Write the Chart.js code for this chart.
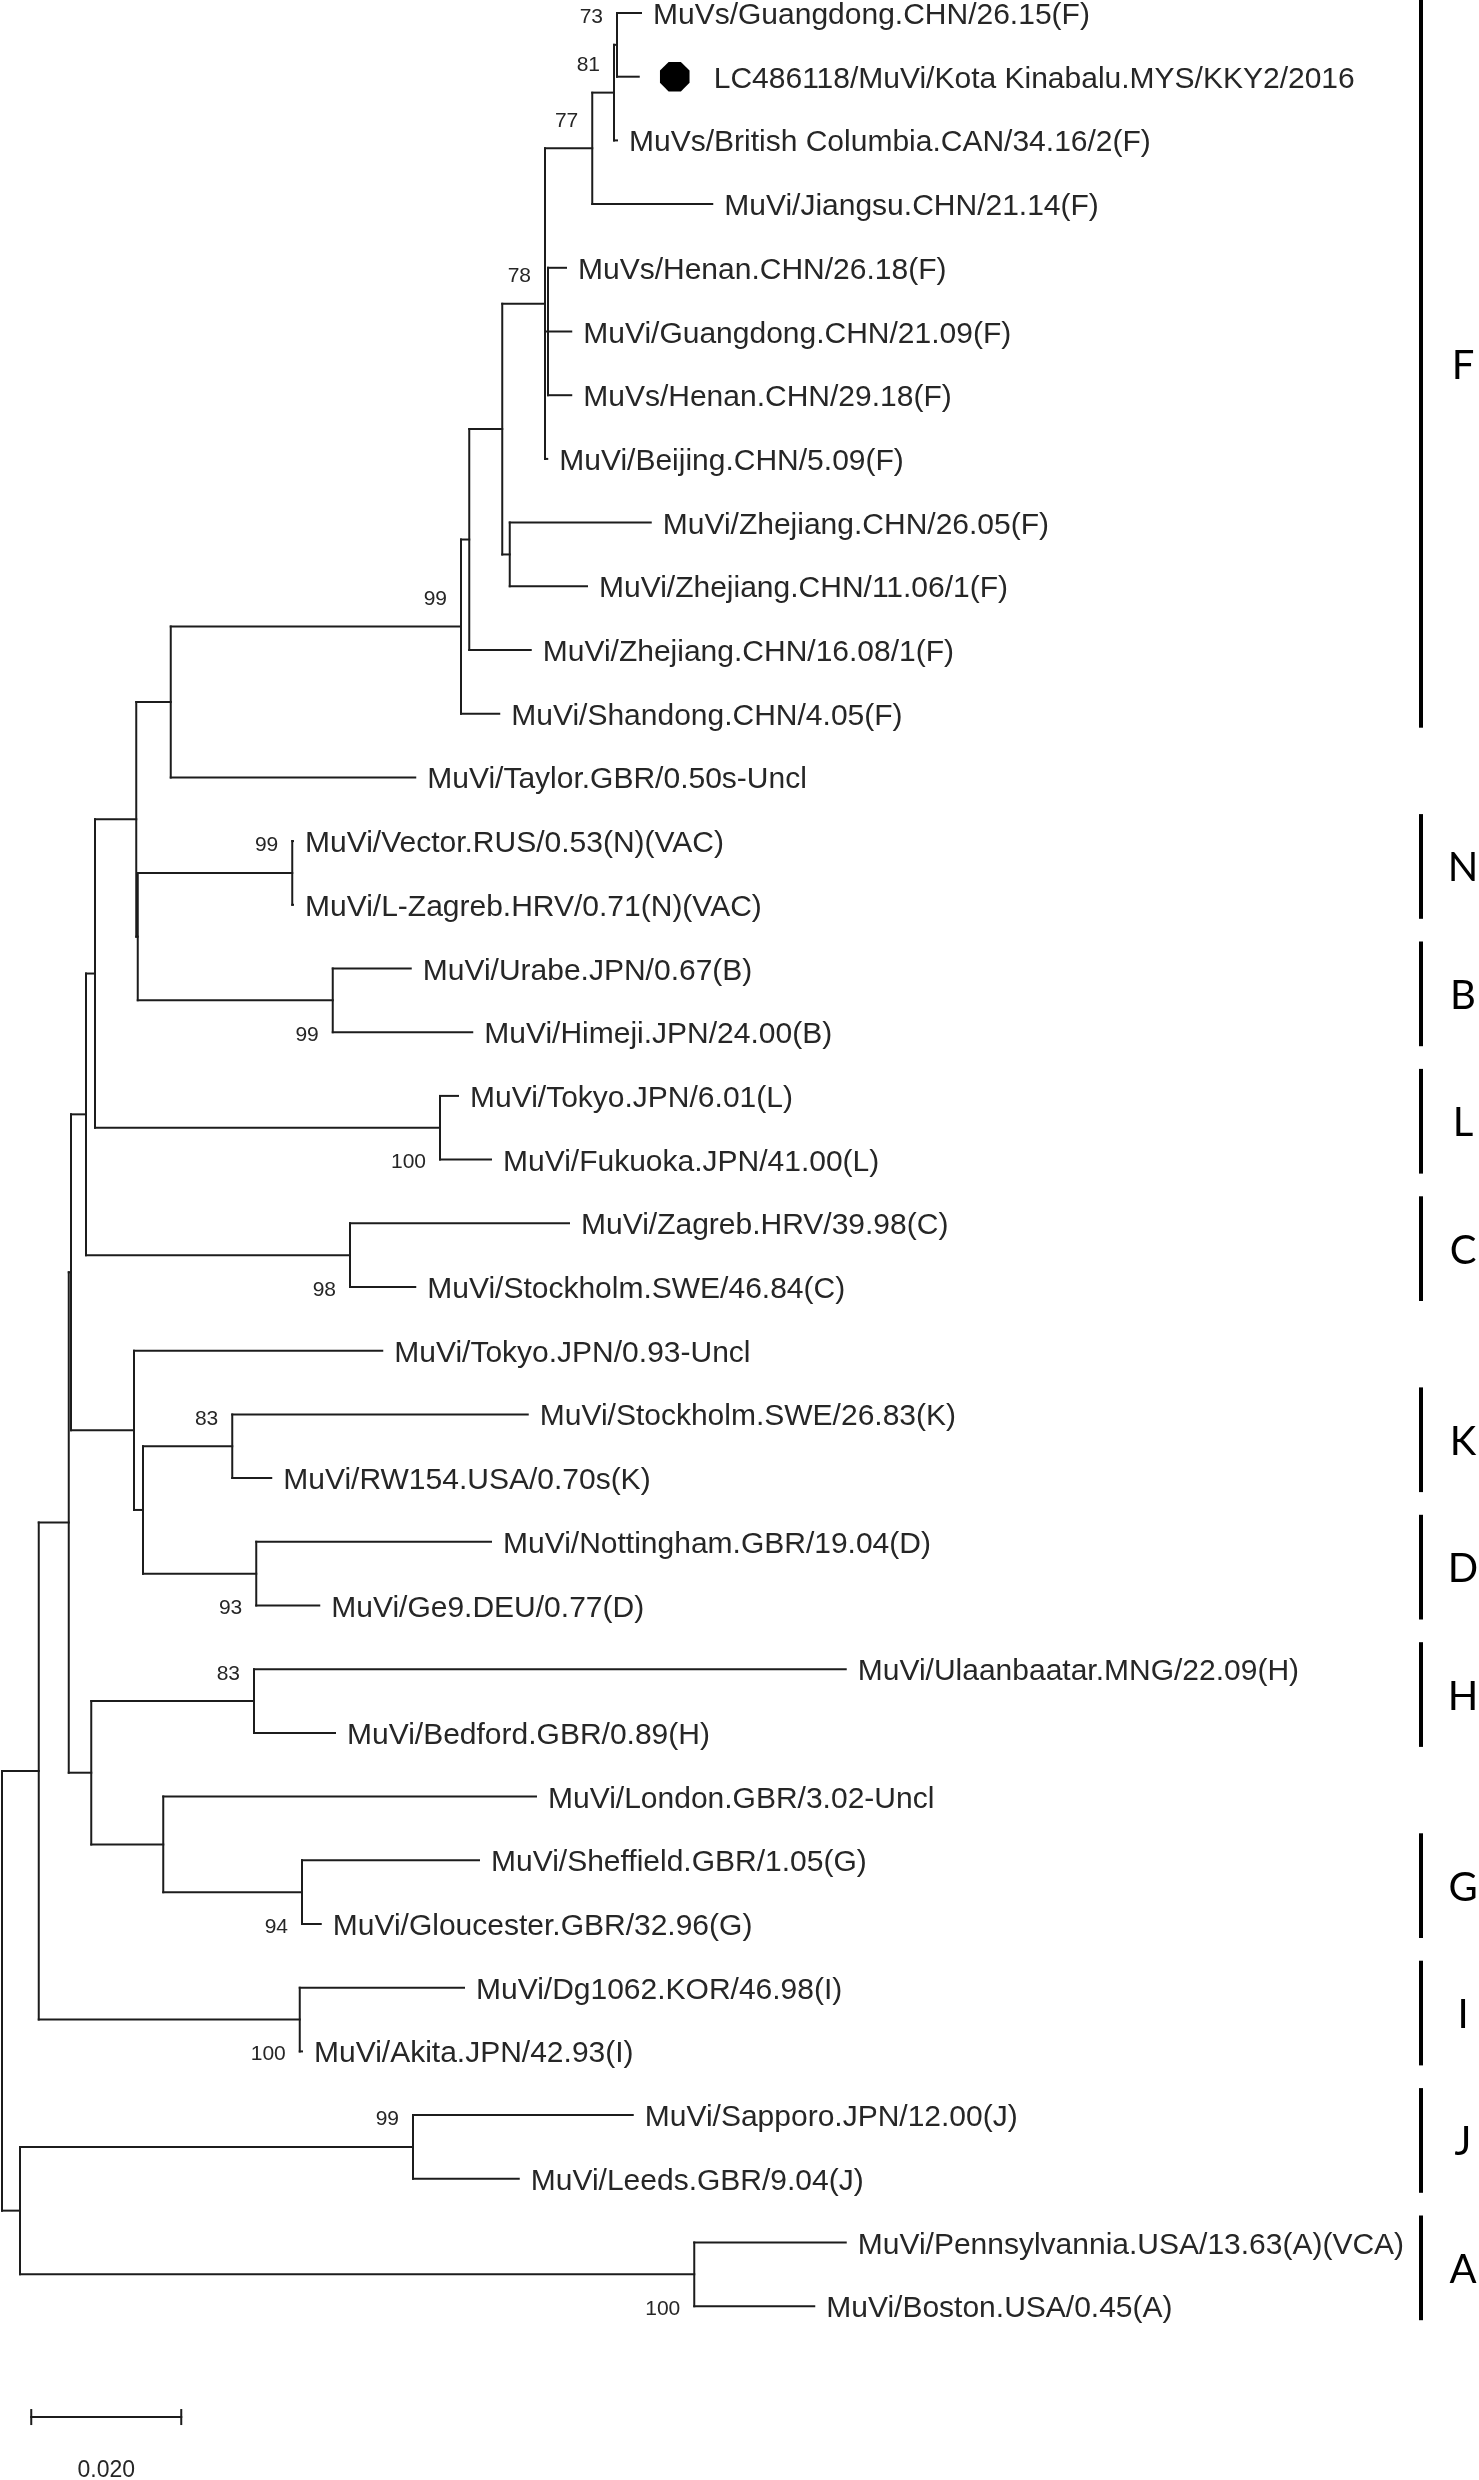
<!DOCTYPE html>
<html>
<head>
<meta charset="utf-8">
<script src="https://cdn.jsdelivr.net/npm/chart.js@4.4.1/dist/chart.umd.min.js"></script>
<style>
  html, body { margin: 0; padding: 0; background: #ffffff; }
  #wrap { position: relative; width: 1479px; height: 2480px; }
</style>
</head>
<body>
<div id="wrap"><canvas id="treeChart"></canvas></div>
<script>
// Leaf names, top to bottom (row index = y value)
const leafNames = [
    'MuVs/Guangdong.CHN/26.15(F)',
    'LC486118/MuVi/Kota Kinabalu.MYS/KKY2/2016',
    'MuVs/British Columbia.CAN/34.16/2(F)',
    'MuVi/Jiangsu.CHN/21.14(F)',
    'MuVs/Henan.CHN/26.18(F)',
    'MuVi/Guangdong.CHN/21.09(F)',
    'MuVs/Henan.CHN/29.18(F)',
    'MuVi/Beijing.CHN/5.09(F)',
    'MuVi/Zhejiang.CHN/26.05(F)',
    'MuVi/Zhejiang.CHN/11.06/1(F)',
    'MuVi/Zhejiang.CHN/16.08/1(F)',
    'MuVi/Shandong.CHN/4.05(F)',
    'MuVi/Taylor.GBR/0.50s-Uncl',
    'MuVi/Vector.RUS/0.53(N)(VAC)',
    'MuVi/L-Zagreb.HRV/0.71(N)(VAC)',
    'MuVi/Urabe.JPN/0.67(B)',
    'MuVi/Himeji.JPN/24.00(B)',
    'MuVi/Tokyo.JPN/6.01(L)',
    'MuVi/Fukuoka.JPN/41.00(L)',
    'MuVi/Zagreb.HRV/39.98(C)',
    'MuVi/Stockholm.SWE/46.84(C)',
    'MuVi/Tokyo.JPN/0.93-Uncl',
    'MuVi/Stockholm.SWE/26.83(K)',
    'MuVi/RW154.USA/0.70s(K)',
    'MuVi/Nottingham.GBR/19.04(D)',
    'MuVi/Ge9.DEU/0.77(D)',
    'MuVi/Ulaanbaatar.MNG/22.09(H)',
    'MuVi/Bedford.GBR/0.89(H)',
    'MuVi/London.GBR/3.02-Uncl',
    'MuVi/Sheffield.GBR/1.05(G)',
    'MuVi/Gloucester.GBR/32.96(G)',
    'MuVi/Dg1062.KOR/46.98(I)',
    'MuVi/Akita.JPN/42.93(I)',
    'MuVi/Sapporo.JPN/12.00(J)',
    'MuVi/Leeds.GBR/9.04(J)',
    'MuVi/Pennsylvannia.USA/13.63(A)(VCA)',
    'MuVi/Boston.USA/0.45(A)'
];

// Distance of each tip from the root (substitutions/site)
const leafDepth = [
    0.0852, 0.0849, 0.0820, 0.0947, 0.0752, 0.0759, 0.0759, 0.0727,
    0.0865, 0.0780, 0.0705, 0.0663, 0.0551, 0.0388, 0.0388, 0.0545,
    0.0627, 0.0608, 0.0652, 0.0756, 0.0551, 0.0507, 0.0701, 0.0359,
    0.0652, 0.0423, 0.1125, 0.0444, 0.0712, 0.0636, 0.0425, 0.0616,
    0.0400, 0.0841, 0.0689, 0.1125, 0.1083
];

// Internal nodes: ids continue after the leaves (37, 38, ...)
const nodeDepth = [
    0.0820, 0.0816, 0.0787, 0.0728, 0.0724, 0.0677, 0.0667, 0.0623,
    0.0612, 0.0225, 0.0387, 0.0441, 0.0181, 0.0179, 0.0584, 0.0124,
    0.0464, 0.0112, 0.0307, 0.0339, 0.0188, 0.0176, 0.0092, 0.0336,
    0.0400, 0.0215, 0.0119, 0.0089, 0.0397, 0.0049, 0.0548, 0.0923,
    0.0024, 0.0
];
const nodeKids = [
    [0, 1], [37, 2], [38, 3], [4, 5, 6], [39, 40, 7], [8, 9], [41, 42], [43, 10],
    [44, 11], [45, 12], [13, 14], [15, 16], [47, 48], [46, 49], [17, 18], [50, 51],
    [19, 20], [52, 53], [22, 23], [24, 25], [55, 56], [21, 57], [54, 58], [26, 27],
    [29, 30], [28, 61], [60, 62], [59, 63], [31, 32], [64, 65], [33, 34], [35, 36],
    [67, 68], [66, 69]
];

// Bootstrap support: node id, value, side of the branch
const bootNodes  = [37, 38, 39, 41, 45, 47, 48, 51, 53, 55, 56, 60, 61, 65, 67, 68];
const bootValues = [73, 81, 77, 78, 99, 99, 99, 100, 98, 83, 93, 83, 94, 100, 99, 100];
const bootSide   = ['up', 'up', 'up', 'up', 'up', 'up', 'down', 'down', 'down', 'up', 'down', 'up', 'down', 'down', 'up', 'down'];

// Genotype brackets: letter, first row, last row
const cladeLetters = ['F', 'N', 'B', 'L', 'C', 'K', 'D', 'H', 'G', 'I', 'J', 'A'];
const cladeFirst   = [0, 13, 15, 17, 19, 22, 24, 26, 29, 31, 33, 35];
const cladeLast    = [11, 14, 16, 18, 20, 23, 25, 27, 30, 32, 34, 36];

const markedLeaf = 1;
const scaleBarStart = 0.0039;
const scaleBarLength = 0.020;
const scaleBarRow = 37.74;

const nLeaves = leafNames.length;
const depthOf = id => id < nLeaves ? leafDepth[id] : nodeDepth[id - nLeaves];
const kidsOf = id => nodeKids[id - nLeaves];

const rowCache = {};
function rowOf(id) {
    if (id < nLeaves) return id;
    if (rowCache[id] !== undefined) return rowCache[id];
    const k = kidsOf(id);
    rowCache[id] = (rowOf(k[0]) + rowOf(k[k.length - 1])) / 2;
    return rowCache[id];
}

const LINE = '#1c1c1c';
const segments = [];
for (let i = 0; i < nodeKids.length; i++) {
    const id = nLeaves + i;
    const k = kidsOf(id);
    const d = depthOf(id);
    // vertical connector
    segments.push([{ x: d, y: rowOf(k[0]) }, { x: d, y: rowOf(k[k.length - 1]) }]);
    // horizontal branches to each child
    k.forEach(c => {
        segments.push([{ x: d, y: rowOf(c) }, { x: depthOf(c), y: rowOf(c) }]);
    });
}
// scale bar
segments.push([{ x: scaleBarStart, y: scaleBarRow }, { x: scaleBarStart + scaleBarLength, y: scaleBarRow }]);

const datasets = segments.map(seg => ({
    data: seg,
    showLine: true,
    borderColor: LINE,
    borderWidth: 2,
    borderCapStyle: 'square',
    pointRadius: 0,
    pointHoverRadius: 0
}));

// Text labels, brackets and marker drawn through the chart scales
const treeLabels = {
    id: 'treeLabels',
    afterDatasetsDraw(chart) {
        const ctx = chart.ctx;
        const xs = chart.scales.x;
        const ys = chart.scales.y;
        ctx.save();

        // leaf names
        ctx.fillStyle = '#262626';
        ctx.font = "30px 'Liberation Sans', Arial, sans-serif";
        ctx.textAlign = 'left';
        ctx.textBaseline = 'alphabetic';
        leafNames.forEach((name, i) => {
            let px = xs.getPixelForValue(leafDepth[i]) + 12;
            const py = ys.getPixelForValue(i);
            if (i === markedLeaf) {
                const cx = px + 24, r = 16;
                ctx.beginPath();
                for (let s = 0; s < 8; s++) {
                    const a = Math.PI / 8 + s * Math.PI / 4;
                    const vx = cx + r * Math.cos(a), vy = py + r * Math.sin(a);
                    if (s === 0) ctx.moveTo(vx, vy); else ctx.lineTo(vx, vy);
                }
                ctx.closePath();
                ctx.fillStyle = '#000000';
                ctx.fill();
                ctx.fillStyle = '#262626';
                px += 63;
            }
            ctx.fillText(name, px, py + 11);
        });

        // bootstrap values
        ctx.font = "21px 'Liberation Sans', Arial, sans-serif";
        ctx.textAlign = 'right';
        bootNodes.forEach((id, i) => {
            const px = xs.getPixelForValue(depthOf(id)) - 14;
            const py = ys.getPixelForValue(rowOf(id)) + (bootSide[i] === 'up' ? -29 : 33);
            ctx.fillText(String(bootValues[i]), px, py + 7.5);
        });

        // genotype brackets
        ctx.fillStyle = '#000000';
        ctx.font = "40px Lato, 'Open Sans', sans-serif";
        ctx.textAlign = 'center';
        ctx.textBaseline = 'alphabetic';
        cladeLetters.forEach((letter, i) => {
            const top = Math.max(0, ys.getPixelForValue(cladeFirst[i]) - 27);
            const bot = ys.getPixelForValue(cladeLast[i]) + 14;
            ctx.fillRect(1419, top, 4, bot - top);
            ctx.fillText(letter, 1463, (top + bot) / 2 + 15);
        });

        // scale bar caps and label
        const x0 = xs.getPixelForValue(scaleBarStart);
        const x1 = xs.getPixelForValue(scaleBarStart + scaleBarLength);
        const yb = ys.getPixelForValue(scaleBarRow);
        ctx.fillStyle = LINE;
        ctx.fillRect(x0 - 1, yb - 8, 2, 16);
        ctx.fillRect(x1 - 1, yb - 8, 2, 16);
        ctx.fillStyle = '#262626';
        ctx.font = "23px 'Liberation Sans', Arial, sans-serif";
        ctx.fillText(scaleBarLength.toFixed(3), (x0 + x1) / 2, yb + 60);

        ctx.restore();
    }
};

const pxPerUnit = 7500;
const rowPx = 63.7;
const firstRowPx = 13;

new Chart(document.getElementById('treeChart'), {
    type: 'scatter',
    data: { datasets },
    options: {
        responsive: true,
        maintainAspectRatio: false,
        animation: false,
        events: [],
        layout: { padding: 0 },
        scales: {
            x: { display: false, min: -2 / pxPerUnit, max: 1477 / pxPerUnit },
            y: { display: false, reverse: true, min: -firstRowPx / rowPx, max: (2480 - firstRowPx) / rowPx }
        },
        plugins: {
            legend: { display: false },
            tooltip: { enabled: false }
        }
    },
    plugins: [treeLabels]
});
</script>
</body>
</html>
